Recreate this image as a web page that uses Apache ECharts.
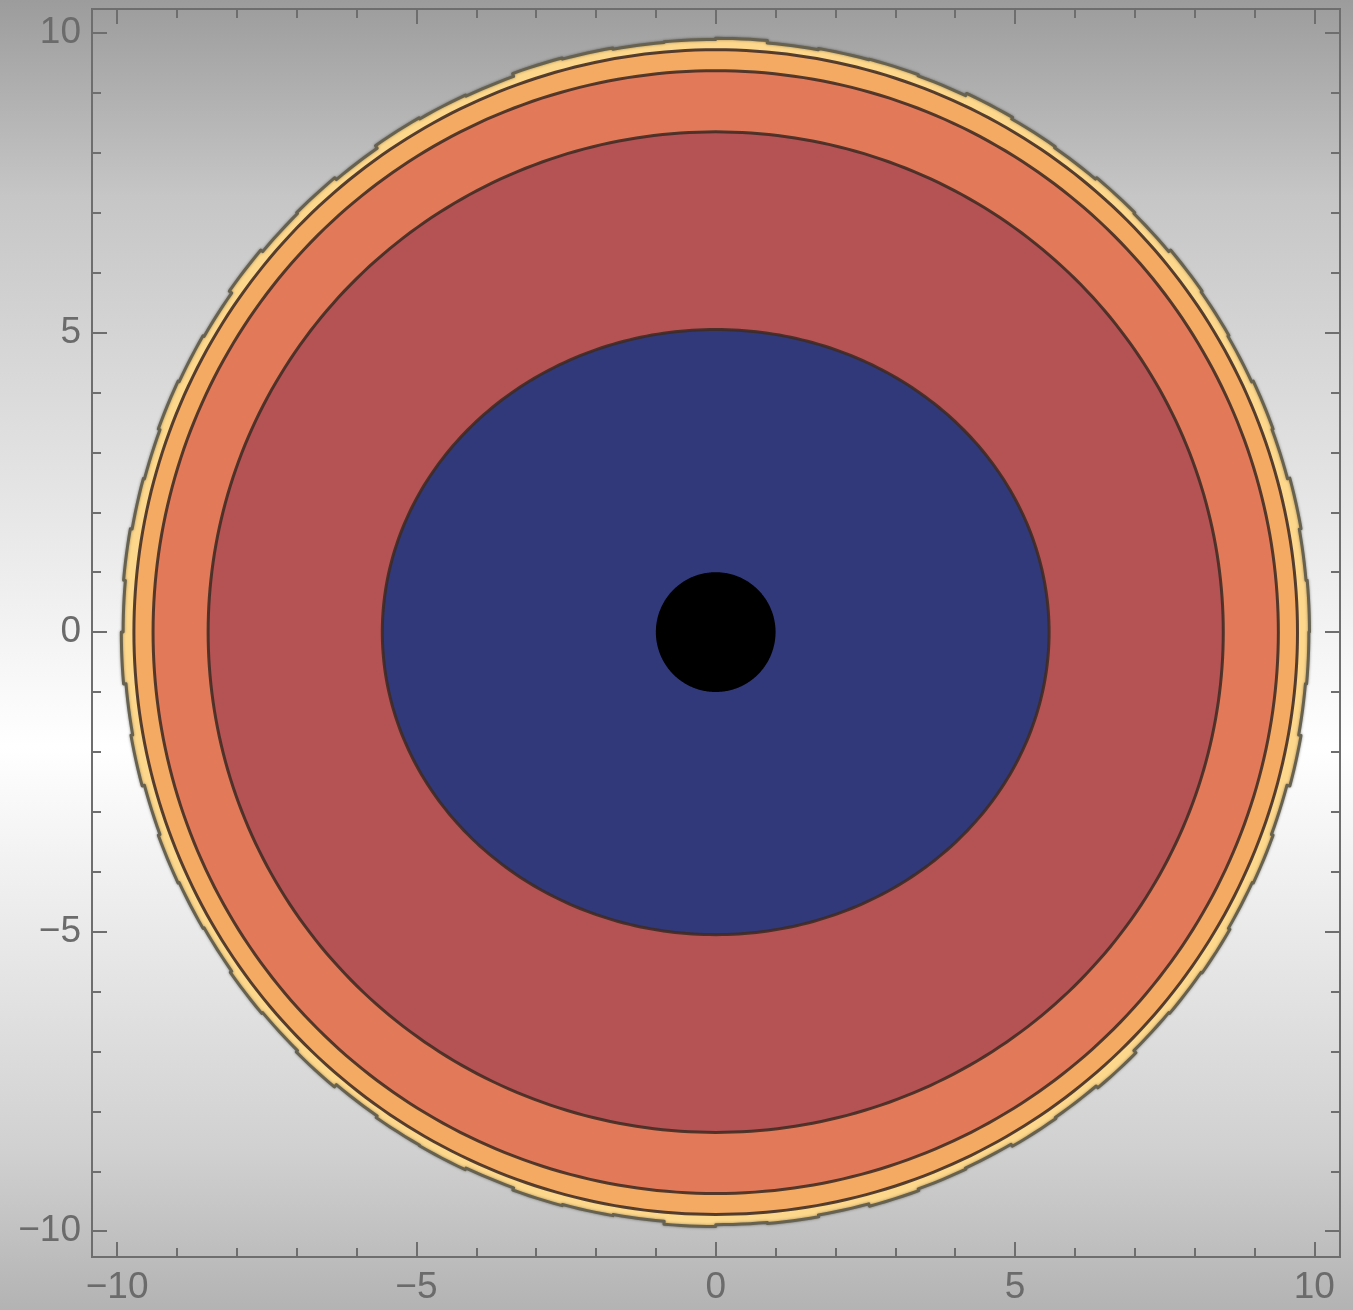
<!DOCTYPE html>
<html>
<head>
<meta charset="utf-8">
<style>
  html, body { margin: 0; padding: 0; }
  #chart { width: 1353px; height: 1310px; }
</style>
<script src="https://cdn.jsdelivr.net/npm/echarts@6/dist/echarts.min.js"></script>
</head>
<body>
<div id="chart"></div>
<script>
// Axis extents and tick positions
const xRange = [-10.42, 10.43];
const yRange = [-10.43, 10.40];
const majorTicks = [-10, -5, 0, 5, 10];
const minorTicks = [-9, -8, -7, -6, -4, -3, -2, -1, 1, 2, 3, 4, 6, 7, 8, 9];

// Contour band boundaries (semi-axes), from the outermost filled level inward
const bandRadiusX = [9.72, 9.40, 8.48, 5.57, 1.00];
const bandRadiusY = [9.72, 9.37, 8.35, 5.05, 1.00];

// Ragged outer boundary of the outermost band: radius for each 5-degree sector,
// counter-clockwise from +x
const outerEdgeRadii = [
  9.92, 9.90, 9.93, 9.89, 9.91, 9.88, 9.90, 9.92, 9.88, 9.90, 9.87, 9.89,
  9.92, 9.88, 9.90, 9.89, 9.87, 9.91, 9.89, 9.88, 9.90, 9.92, 9.87, 9.89,
  9.91, 9.86, 9.90, 9.88, 9.92, 9.87, 9.89, 9.91, 9.88, 9.90, 9.93, 9.90,
  9.93, 9.89, 9.92, 9.88, 9.91, 9.89, 9.87, 9.90, 9.88, 9.91, 9.86, 9.89,
  9.90, 9.87, 9.91, 9.89, 9.87, 9.92, 9.89, 9.91, 9.88, 9.92, 9.89, 9.87,
  9.91, 9.89, 9.93, 9.88, 9.90, 9.92, 9.89, 9.91, 9.88, 9.93, 9.89, 9.91
];

// Fill colours, outermost first
const bandFills = ['#fdd78b', '#f4aa63', '#e27a5a', '#b55254', '#31397b', '#000000'];

const chart = echarts.init(document.getElementById('chart'), null, { renderer: 'canvas' });

const axisColor = '#6e6e6e';
const labelColor = '#6b6b6b';
const minus = v => String(v).replace('-', '\u2212');

function makeAxis(pos, range, ticks, len, labels) {
  return {
    type: 'value',
    position: pos,
    min: range[0],
    max: range[1],
    axisLine: { show: true, onZero: false, lineStyle: { color: axisColor, width: 2 } },
    axisTick: { show: true, inside: true, length: len, customValues: ticks, lineStyle: { color: axisColor, width: 2 } },
    axisLabel: labels ? {
      show: true, customValues: ticks, formatter: minus,
      fontFamily: 'Liberation Sans, Arial, sans-serif', fontSize: 37, color: labelColor,
      margin: pos === 'left' ? 11 : 12
    } : { show: false },
    splitLine: { show: false },
    minorTick: { show: false }
  };
}

// Boundary polygon for band i (0 = ragged outer edge drawn as stepped arcs)
function bandPoints(i, api) {
  const pts = [];
  if (i === 0) {
    const n = outerEdgeRadii.length;
    const sub = 6;
    for (let k = 0; k < n; k++) {
      const r = outerEdgeRadii[k];
      for (let s = 0; s <= sub; s++) {
        const a = ((k + s / sub) / n) * Math.PI * 2;
        pts.push(api.coord([r * Math.cos(a), r * Math.sin(a)]));
      }
    }
  } else {
    const rx = bandRadiusX[i - 1], ry = bandRadiusY[i - 1];
    const n = 360;
    for (let k = 0; k < n; k++) {
      const a = (k / n) * Math.PI * 2;
      pts.push(api.coord([rx * Math.cos(a), ry * Math.sin(a)]));
    }
  }
  return pts;
}

const option = {
  animation: false,
  graphic: [{
    type: 'rect', z: -10, silent: true,
    shape: { x: 0, y: 0, width: 1353, height: 1310 },
    style: {
      fill: new echarts.graphic.LinearGradient(0, 0, 0, 1, [
        { offset: 0, color: '#9c9c9c' },
        { offset: 0.15, color: '#c6c6c6' },
        { offset: 0.57, color: '#ffffff' },
        { offset: 0.88, color: '#d0d0d0' },
        { offset: 1, color: '#b3b3b3' }
      ])
    }
  }],
  grid: { left: 92, right: 13, top: 9, bottom: 53, containLabel: false },
  xAxis: [
    makeAxis('bottom', xRange, majorTicks, 15, true),
    makeAxis('bottom', xRange, minorTicks, 9, false),
    makeAxis('top', xRange, majorTicks, 15, false),
    makeAxis('top', xRange, minorTicks, 9, false)
  ],
  yAxis: [
    makeAxis('left', yRange, majorTicks, 15, true),
    makeAxis('left', yRange, minorTicks, 9, false),
    makeAxis('right', yRange, majorTicks, 15, false),
    makeAxis('right', yRange, minorTicks, 9, false)
  ],
  series: [{
    type: 'custom',
    xAxisIndex: 0,
    yAxisIndex: 0,
    clip: true,
    data: bandFills.map((c, i) => [i]),
    renderItem: function (params, api) {
      const i = params.dataIndex;
      const outer = i === 0;
      const core = i === bandFills.length - 1;
      return {
        type: 'polygon',
        shape: { points: bandPoints(i, api) },
        style: {
          fill: bandFills[i],
          stroke: outer ? '#66624f' : (core ? '#000000' : 'rgba(62,42,34,0.88)'),
          lineWidth: outer ? 3 : (core ? 0 : 3),
          lineJoin: 'round',
          shadowBlur: outer ? 3 : 0,
          shadowColor: 'rgba(0,0,0,0.35)'
        }
      };
    }
  }]
};

chart.setOption(option);
</script>
</body>
</html>
